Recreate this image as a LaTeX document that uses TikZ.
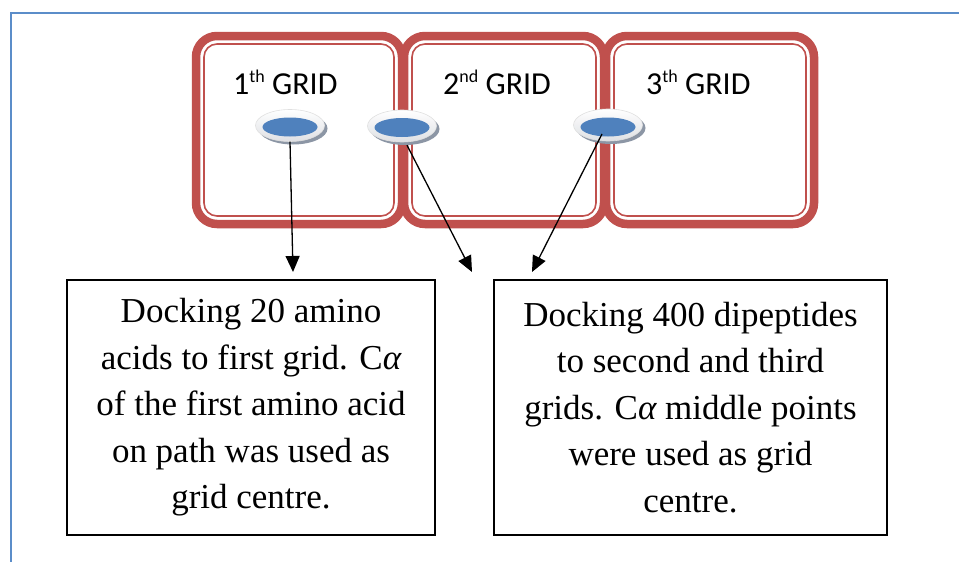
\documentclass[tikz,border=0pt]{standalone}
\usepackage{fontspec}
\setmainfont{Liberation Serif}
\newfontfamily\calib{Carlito}
\usetikzlibrary{arrows.meta,shapes.geometric,shadows,calc}
\definecolor{gridred}{RGB}{192,80,77}
\definecolor{frameblue}{RGB}{91,141,201}
\definecolor{dotblue}{RGB}{79,129,189}
\definecolor{rimgrey}{RGB}{222,224,228}
\definecolor{shadowgrey}{RGB}{140,150,165}
\newcommand\supx[1]{\raisebox{12pt}{\fontsize{18}{18}\selectfont #1}}
\begin{document}
\begin{tikzpicture}[x=1pt,y=-1pt,
  gridband/.style={draw=gridred, line width=8.5pt, rounded corners=21pt},
  gridthin/.style={draw=gridred, line width=1.6pt, rounded corners=13pt},
  gridlabel/.style={font=\calib\fontsize{32}{38}\selectfont, anchor=base west, inner sep=0pt},
  rim/.style={ellipse, inner sep=0pt, minimum width=69pt, minimum height=32pt,
    top color=white, bottom color=rimgrey, draw=black!12, line width=0.6pt,
    drop shadow={shadow xshift=3pt, shadow yshift=-3pt, fill=shadowgrey, opacity=1}},
  dot/.style={ellipse, inner sep=0pt, minimum width=55pt, minimum height=19pt, fill=dotblue},
  conn/.style={draw=black, line width=1.3pt, -{Triangle[length=16pt,width=14pt]}},
  textbox/.style={draw=black, line width=1.2pt, align=center, inner sep=0pt, font=\fontsize{35}{46.5}\selectfont}
]
\useasboundingbox (0,0) rectangle (959,562);
\fill[white] (0,0) rectangle (959,562);
\draw[frameblue, line width=2pt] (11,562) -- (11,12.5) -- (959,12.5);

% grid boxes
\draw[gridband] (196,36) rectangle (402,224);
\draw[gridband] (404,36) rectangle (604,224);
\draw[gridband] (606,36) rectangle (814,224);
\draw[gridthin] (204,44) rectangle (394,216);
\draw[gridthin] (412,44) rectangle (596,216);
\draw[gridthin] (614,44) rectangle (806,216);

% labels
\node[gridlabel] (l1) at (233,94) {1\supx{th} GRID};
\node[gridlabel] (l2) at (443,94) {2\supx{nd} GRID};
\node[gridlabel] (l3) at (646,94) {3\supx{th} GRID};

% discs
\node[rim] (e1) at (290,125.5) {};
\node[rim] (e2) at (402,126) {};
\node[rim] (e3) at (608,125) {};
\node[dot] (d1) at (290,127) {};
\node[dot] (d2) at (402,127.5) {};
\node[dot] (d3) at (608,127) {};

% text boxes
\node[textbox, minimum width=368pt, minimum height=255pt] (b1) at (251,407.5)
  {Docking 20 amino\\acids to first grid. C{\itshape α}\\of the first amino acid\\on path was used as\\grid centre.};
\node[textbox, minimum width=393pt, minimum height=255pt] (b2) at (690.5,407.5)
  {Docking 400 dipeptides\\to second and third\\grids. C{\itshape α} middle points\\were used as grid\\centre.};

% connectors
\coordinate (t1) at (293,272);
\coordinate (t2) at (472,272);
\coordinate (t3) at (532,272);
\draw[conn] ($(d1.south)+(0,5)$) -- (t1);
\draw[conn] ($(d2.south)+(5,8)$) -- (t2);
\draw[conn] ($(d3.center)+(-6,7)$) -- (t3);
\end{tikzpicture}
\end{document}
